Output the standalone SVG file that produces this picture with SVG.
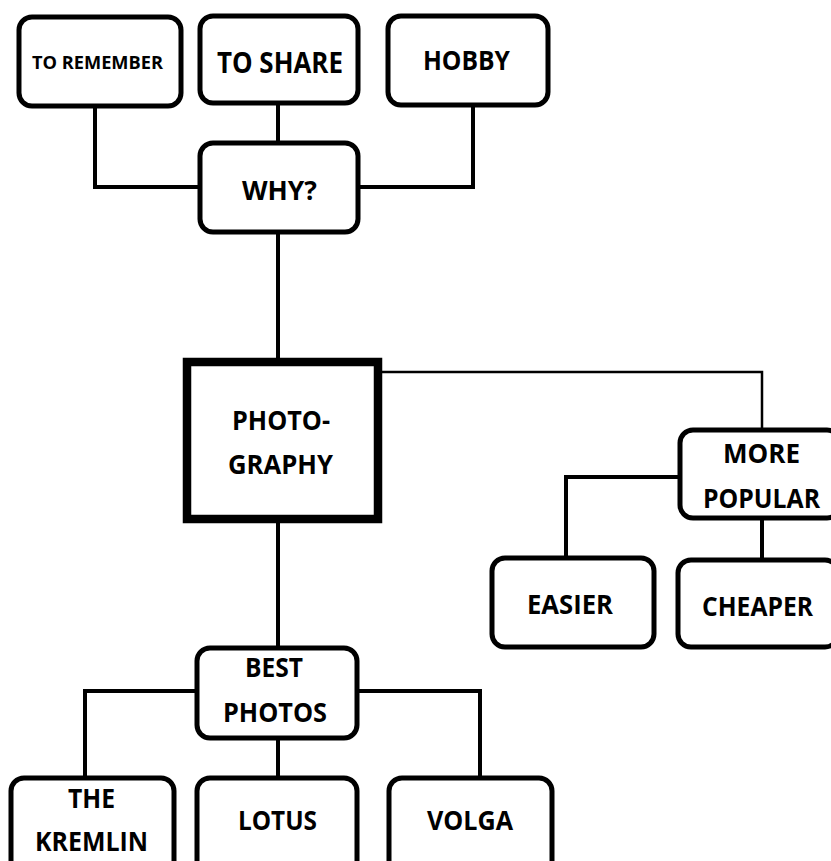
<svg xmlns="http://www.w3.org/2000/svg" width="831" height="861" viewBox="0 0 831 861">
<style>
.box{fill:#fff;stroke:#000;stroke-width:5}
.main{fill:#fff;stroke:#000;stroke-width:8.5}
.ln{fill:none;stroke:#000;stroke-width:4}
.thin{fill:none;stroke:#000;stroke-width:2.5}
text{font-family:"Open Sans","Liberation Sans",sans-serif;font-weight:700;font-size:26px;text-anchor:middle;fill:#000}
.sm{font-size:18px}
.lg{font-size:28px}
</style>
<rect width="831" height="861" fill="#fff"/>
<g id="connectors">
<path class="ln" d="M95 106 V187 H200"/>
<path class="ln" d="M278 103 V143"/>
<path class="ln" d="M473 105 V187 H358"/>
<path class="ln" d="M278 232 V362"/>
<path class="thin" d="M382 372 H762 V430"/>
<path class="ln" d="M680 477 H566 V558"/>
<path class="ln" d="M762 518 V560"/>
<path class="ln" d="M278 523 V648"/>
<path class="ln" d="M197 691 H85 V778"/>
<path class="ln" d="M357 691 H480 V778"/>
<path class="ln" d="M278 738 V778"/>
</g>
<g id="to-remember"><rect class="box" x="19" y="17" width="162" height="89" rx="13"/><text class="sm" x="97.5" y="69" textLength="131" lengthAdjust="spacingAndGlyphs">TO REMEMBER</text></g>
<g id="to-share"><rect class="box" x="200" y="16" width="158" height="87" rx="13"/><text class="lg" x="280" y="73" textLength="126" lengthAdjust="spacingAndGlyphs">TO SHARE</text></g>
<g id="hobby"><rect class="box" x="388" y="16" width="160" height="89" rx="13"/><text x="466.5" y="70" textLength="87" lengthAdjust="spacingAndGlyphs">HOBBY</text></g>
<g id="why"><rect class="box" x="200" y="143" width="158" height="89" rx="13"/><text x="279.5" y="200" textLength="75" lengthAdjust="spacingAndGlyphs">WHY?</text></g>
<g id="photography"><rect class="main" x="187" y="362" width="191" height="157"/><text x="281" y="430" textLength="98" lengthAdjust="spacingAndGlyphs">PHOTO-</text><text x="280.5" y="474" textLength="105" lengthAdjust="spacingAndGlyphs">GRAPHY</text></g>
<g id="more-popular"><rect class="box" x="680" y="430" width="160" height="88" rx="13"/><text x="761.5" y="463" textLength="77" lengthAdjust="spacingAndGlyphs">MORE</text><text x="761.5" y="508" textLength="117" lengthAdjust="spacingAndGlyphs">POPULAR</text></g>
<g id="easier"><rect class="box" x="492" y="558" width="162" height="89" rx="13"/><text x="570" y="614" textLength="86" lengthAdjust="spacingAndGlyphs">EASIER</text></g>
<g id="cheaper"><rect class="box" x="678" y="560" width="160" height="87" rx="13"/><text x="757.5" y="616" textLength="111" lengthAdjust="spacingAndGlyphs">CHEAPER</text></g>
<g id="best-photos"><rect class="box" x="197" y="648" width="160" height="90" rx="13"/><text x="274" y="677" textLength="58" lengthAdjust="spacingAndGlyphs">BEST</text><text x="275" y="722" textLength="104" lengthAdjust="spacingAndGlyphs">PHOTOS</text></g>
<g id="the-kremlin"><rect class="box" x="11" y="778" width="163" height="100" rx="13"/><text x="91.5" y="808" textLength="47" lengthAdjust="spacingAndGlyphs">THE</text><text x="91.5" y="851" textLength="113" lengthAdjust="spacingAndGlyphs">KREMLIN</text></g>
<g id="lotus"><rect class="box" x="197" y="778" width="160" height="100" rx="13"/><text x="277.5" y="830" textLength="79" lengthAdjust="spacingAndGlyphs">LOTUS</text></g>
<g id="volga"><rect class="box" x="389" y="778" width="163" height="100" rx="13"/><text x="470" y="830" textLength="86" lengthAdjust="spacingAndGlyphs">VOLGA</text></g>
</svg>
